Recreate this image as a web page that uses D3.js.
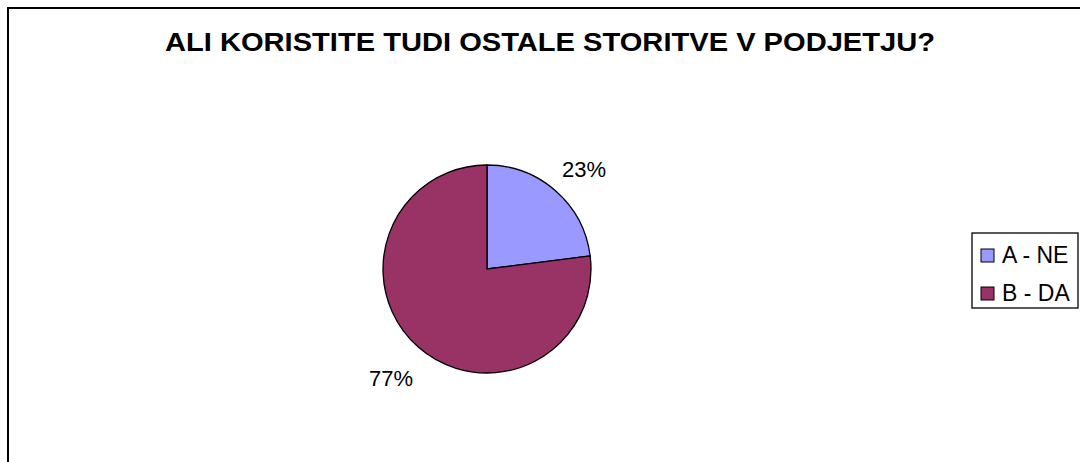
<!DOCTYPE html>
<html>
<head>
<meta charset="utf-8">
<script src="https://cdn.jsdelivr.net/npm/d3@7"></script>
<style>
  body { margin: 0; background: #fff; }
  svg { font-family: 'Liberation Sans', Arial, sans-serif; }
</style>
</head>
<body>
<div id="chart"></div>
<script>
const labels = ['A - NE', 'B - DA']
const values = [23, 77]
const colors = ['#9999FF', '#993366']
const title = 'ALI KORISTITE TUDI OSTALE STORITVE V PODJETJU?'

const width = 1080
const height = 462
const cx = 487
const cy = 269
const radius = 104

let svg = d3.select('#chart').append('svg')
  .attr('width', width)
  .attr('height', height)

// outer frame runs past the right and bottom edges
svg.append('rect')
  .attr('x', 8).attr('y', 8)
  .attr('width', 1100).attr('height', 500)
  .style('fill', 'none')
  .style('stroke', '#000')
  .style('stroke-width', 2)

svg.append('text')
  .attr('x', 165).attr('y', 51)
  .attr('textLength', 770)
  .attr('lengthAdjust', 'spacingAndGlyphs')
  .style('font-size', '26px')
  .style('font-weight', 'bold')
  .text(title)

let data = labels.map((l, i) => ({label: l, value: values[i], color: colors[i]}))
let pie = d3.pie().sort(null).value(d => d.value)
let arc = d3.arc().innerRadius(0).outerRadius(radius)
let arcs = pie(data)

let g = svg.append('g').attr('transform', `translate(${cx},${cy})`)
g.selectAll('path')
  .data(arcs)
  .enter()
  .append('path')
  .attr('d', arc)
  .style('fill', d => d.data.color)
  .style('stroke', '#000')
  .style('stroke-width', 1.3)

// percentage labels outside the slices
let total = d3.sum(values)
const labelPos = [[97, -92], [-96, 117]]
g.selectAll('.pct')
  .data(arcs)
  .enter()
  .append('text')
  .attr('class', 'pct')
  .attr('x', (d, i) => labelPos[i][0])
  .attr('y', (d, i) => labelPos[i][1])
  .attr('text-anchor', 'middle')
  .style('font-size', '22px')
  .text(d => Math.round(d.data.value / total * 100) + '%')

// legend
let lg = svg.append('g').attr('transform', 'translate(972,233)')
lg.append('rect')
  .attr('width', 106).attr('height', 75)
  .style('fill', '#fff')
  .style('stroke', '#000')
  .style('stroke-width', 1.3)
let items = lg.selectAll('.item')
  .data(data)
  .enter()
  .append('g')
  .attr('class', 'item')
  .attr('transform', (d, i) => `translate(9,${16 + i * 38})`)
items.append('rect')
  .attr('width', 13).attr('height', 13)
  .style('fill', d => d.color)
  .style('stroke', '#000')
  .style('stroke-width', 1)
items.append('text')
  .attr('x', 21).attr('y', 14)
  .style('font-size', '23px')
  .text(d => d.label)
</script>
</body>
</html>
